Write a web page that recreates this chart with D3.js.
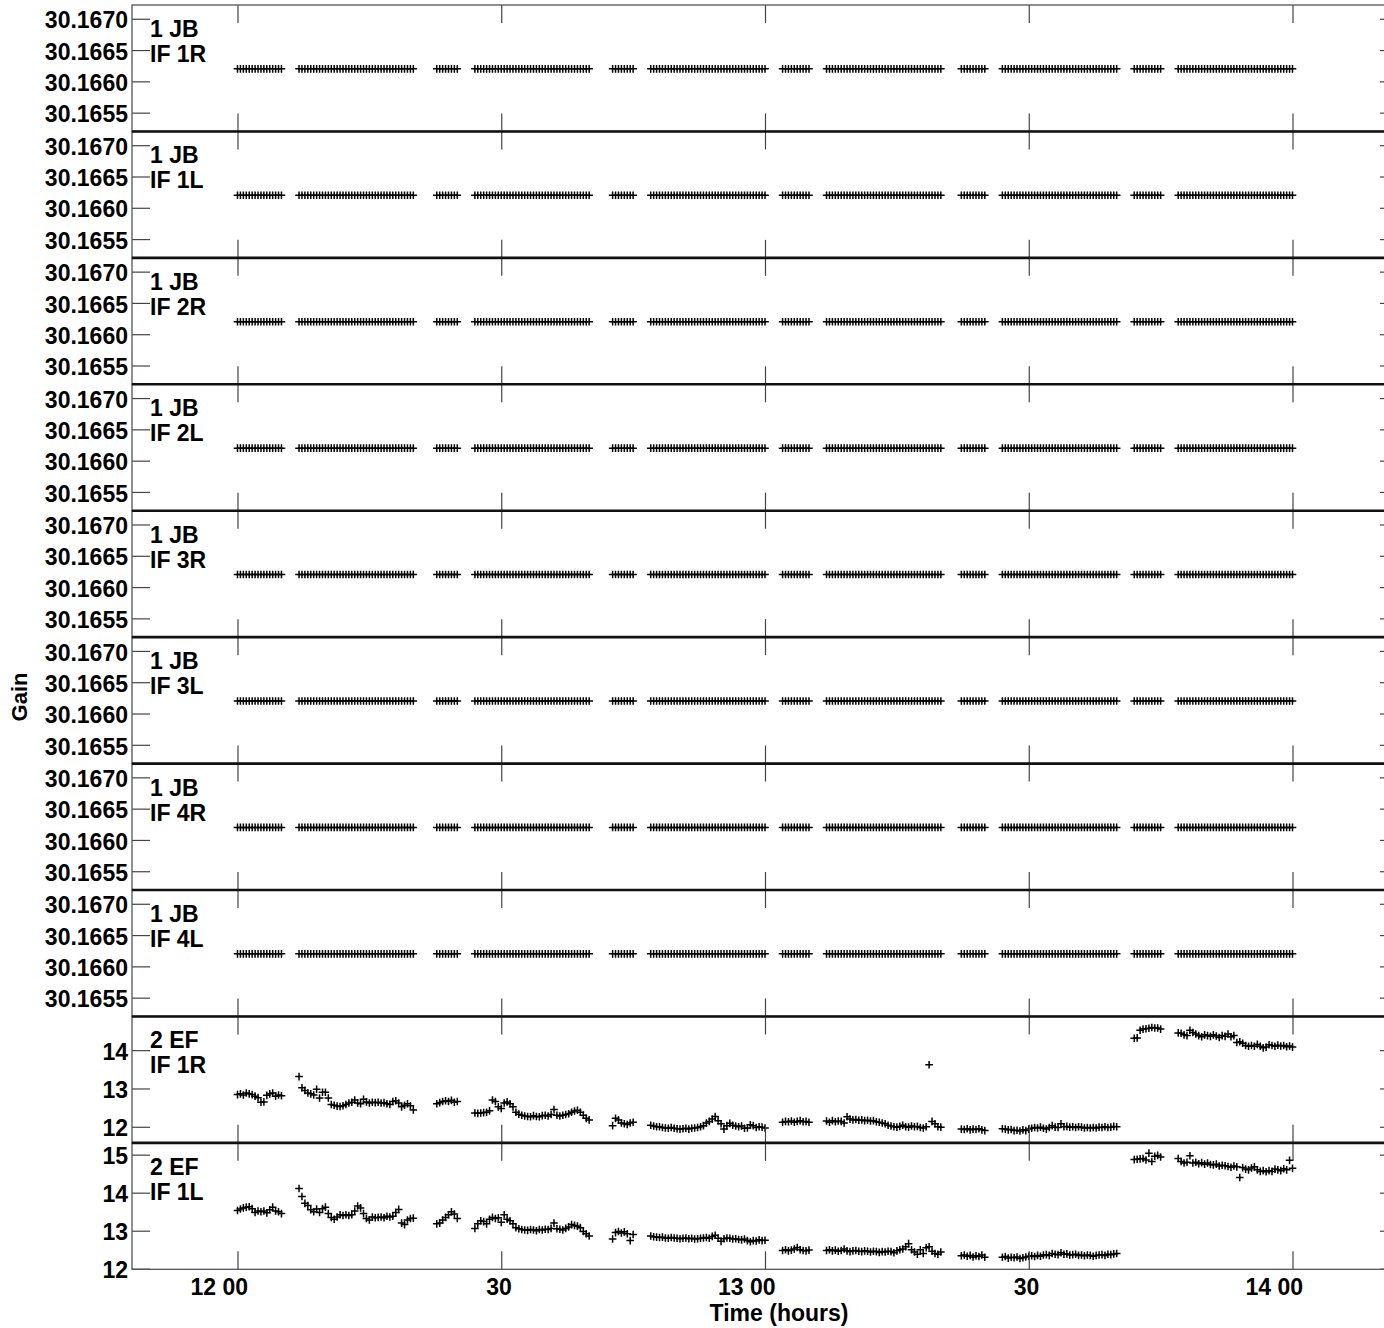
<!DOCTYPE html>
<html>
<head>
<meta charset="utf-8">
<script src="https://cdn.jsdelivr.net/npm/d3@7"></script>
<style>
  body { margin: 0; background: #fff; }
  svg { display: block; font-family: "Liberation Sans", Arial, sans-serif; font-weight: bold; }
</style>
</head>
<body>
<div id="chart"></div>
<script>
// ---- data ----
var panelAntenna = ["1 JB", "1 JB", "1 JB", "1 JB", "1 JB", "1 JB", "1 JB", "1 JB", "2 EF", "2 EF"];
var panelIF = ["IF 1R", "IF 1L", "IF 2R", "IF 2L", "IF 3R", "IF 3L", "IF 4R", "IF 4L", "IF 1R", "IF 1L"];

// scans: start time and number of 20 s samples
var scanStart = ["12:00:00", "12:07:00", "12:22:40", "12:27:00", "12:42:40", "12:47:00",
                 "13:02:00", "13:07:00", "13:22:20", "13:27:00", "13:42:00", "13:47:00"];
var scanCount = [16, 40, 8, 40, 8, 40, 10, 40, 9, 40, 10, 40];
var sampleSec = 20;

// JB gains are flat in every IF
var jbGain = [30.1662, 30.1662, 30.1662, 30.1662, 30.1662, 30.1662, 30.1662, 30.1662];

// EF gains, one list per scan
var efIF1R = [
  [12.84,12.86,12.83,12.88,12.86,12.84,12.80,12.76,12.64,12.65,12.82,12.86,12.88,12.80,12.83,12.81],
  [13.31,13.02,12.95,12.88,12.86,12.83,12.98,12.75,12.90,12.90,
   12.75,12.58,12.56,12.54,12.53,12.55,12.58,12.62,12.64,12.70,
   12.62,12.60,12.72,12.65,12.62,12.64,12.63,12.64,12.62,12.63,
   12.60,12.58,12.66,12.68,12.62,12.52,12.56,12.60,12.55,12.44],
  [12.60,12.63,12.66,12.68,12.66,12.69,12.64,12.66],
  [12.36,12.35,12.36,12.37,12.38,12.42,12.70,12.66,12.52,12.48,
   12.62,12.65,12.60,12.52,12.38,12.33,12.30,12.28,12.27,12.26,
   12.29,12.27,12.26,12.29,12.30,12.28,12.32,12.45,12.30,12.28,
   12.30,12.32,12.34,12.38,12.41,12.43,12.38,12.30,12.22,12.18],
  [12.03,12.22,12.18,12.10,12.08,12.06,12.10,12.12],
  [12.04,12.02,12.00,12.00,11.98,11.97,11.96,11.98,11.96,11.95,
   11.94,11.95,11.96,11.94,11.96,11.97,11.98,12.00,12.03,12.10,
   12.14,12.20,12.27,12.16,12.08,11.94,12.03,12.09,12.04,12.02,
   12.00,12.02,11.96,11.97,12.05,12.03,11.98,12.00,11.99,11.97],
  [12.12,12.14,12.13,12.15,12.12,12.14,12.16,12.13,12.14,12.12],
  [12.15,12.12,12.16,12.13,12.15,12.14,12.10,12.26,12.20,12.18,
   12.19,12.17,12.18,12.16,12.17,12.15,12.16,12.13,12.12,12.10,
   12.08,12.04,12.02,12.00,11.99,12.01,12.04,12.00,11.99,12.02,
   12.00,12.01,11.98,11.97,12.00,13.62,12.14,12.08,12.00,11.99],
  [11.94,11.93,11.95,11.92,11.94,11.93,11.95,11.92,11.90],
  [11.95,11.94,11.92,11.93,11.90,11.91,11.89,11.92,11.90,11.94,
   11.96,11.98,11.97,11.99,11.96,11.94,11.98,12.03,11.99,11.98,
   12.08,12.00,12.01,11.99,12.00,11.98,12.00,11.99,11.97,11.98,
   11.97,11.98,11.97,11.99,11.98,12.00,11.98,11.99,12.01,12.00],
  [14.31,14.32,14.52,14.55,14.56,14.57,14.59,14.58,14.58,14.55],
  [14.45,14.44,14.40,14.38,14.52,14.46,14.42,14.38,14.35,14.40,
   14.38,14.36,14.40,14.37,14.33,14.38,14.36,14.42,14.35,14.38,
   14.20,14.22,14.18,14.12,14.10,14.12,14.10,14.15,14.10,14.06,
   14.08,14.14,14.12,14.10,14.13,14.11,14.12,14.09,14.11,14.08]
];
var efIF1L = [
  [13.53,13.57,13.60,13.62,13.63,13.58,13.48,13.52,13.50,13.52,13.47,13.55,13.62,13.52,13.50,13.45],
  [14.11,13.90,13.72,13.66,13.55,13.50,13.57,13.48,13.58,13.62,
   13.45,13.35,13.30,13.36,13.42,13.40,13.42,13.40,13.42,13.52,
   13.65,13.60,13.45,13.32,13.28,13.36,13.34,13.35,13.36,13.34,
   13.38,13.36,13.38,13.48,13.56,13.20,13.16,13.28,13.32,13.33],
  [13.18,13.20,13.28,13.35,13.42,13.50,13.44,13.32],
  [13.06,13.18,13.26,13.24,13.18,13.30,13.35,13.32,13.34,13.22,
   13.42,13.30,13.26,13.18,13.08,13.05,13.03,13.02,13.01,13.03,
   13.02,13.00,13.03,13.02,13.04,13.03,13.06,13.20,13.05,13.04,
   13.02,13.06,13.10,13.16,13.14,13.12,13.08,12.98,12.92,12.86],
  [12.78,12.95,12.98,12.94,12.97,12.92,12.74,12.90],
  [12.86,12.84,12.83,12.82,12.83,12.81,12.80,12.82,12.81,12.80,
   12.79,12.80,12.81,12.79,12.80,12.78,12.79,12.80,12.81,12.82,
   12.80,12.85,12.88,12.80,12.72,12.79,12.81,12.80,12.78,12.79,
   12.77,12.76,12.78,12.74,12.71,12.74,12.73,12.76,12.74,12.75],
  [12.48,12.50,12.47,12.49,12.52,12.56,12.50,12.48,12.47,12.49],
  [12.48,12.50,12.47,12.49,12.46,12.48,12.52,12.47,12.45,12.47,
   12.48,12.46,12.45,12.47,12.46,12.44,12.46,12.45,12.43,12.45,
   12.44,12.46,12.45,12.42,12.47,12.50,12.52,12.58,12.66,12.50,
   12.44,12.38,12.50,12.40,12.55,12.58,12.46,12.40,12.38,12.44],
  [12.34,12.36,12.33,12.35,12.31,12.34,12.32,12.36,12.30],
  [12.30,12.32,12.28,12.30,12.29,12.31,12.27,12.29,12.31,12.33,
   12.34,12.32,12.35,12.33,12.36,12.37,12.35,12.40,12.38,12.37,
   12.42,12.38,12.39,12.36,12.37,12.38,12.35,12.36,12.34,12.36,
   12.35,12.33,12.35,12.36,12.37,12.35,12.38,12.37,12.39,12.40],
  [14.87,14.88,14.89,14.90,14.86,15.04,14.82,14.96,14.98,14.94],
  [14.90,14.82,14.78,14.80,14.97,14.78,14.80,14.76,14.79,14.75,
   14.78,14.74,14.73,14.75,14.70,14.72,14.71,14.69,14.67,14.70,
   14.68,14.40,14.66,14.62,14.60,14.65,14.68,14.60,14.56,14.58,
   14.55,14.58,14.56,14.62,14.60,14.58,14.63,14.60,14.85,14.64]
];

// axes
var timeDomain = [11.8, 14.2];
var timeTicks = [12, 12.5, 13, 13.5, 14];
var timeTickLabels = ["12 00", "30", "13 00", "30", "14 00"];
var jbDomain = [30.16520, 30.16722];
var jbTicks = [30.1655, 30.1660, 30.1665, 30.1670];
var ef1RDomain = [11.58, 14.88];
var ef1RTicks = [12, 13, 14];
var ef1LDomain = [11.985, 15.31];
var ef1LTicks = [12, 13, 14, 15];

// ---- layout ----
var W = 1384, H = 1328;
var plotLeft = 132, plotRight = 1398, plotTop = 5, plotBottom = 1269.3;
var nPanels = panelIF.length;
var panelH = (plotBottom - plotTop) / nPanels;
var tickLen = 18;
var fontSize = 23;

function toHours(s) {
    var p = s.split(":").map(Number);
    return p[0] + p[1] / 60 + p[2] / 3600;
}

// sample times of each scan
var scanTimes = scanStart.map(function (s, i) {
    var t0 = toHours(s);
    return d3.range(scanCount[i]).map(function (k) { return t0 + k * sampleSec / 3600; });
});

var x = d3.scaleLinear().domain(timeDomain).range([plotLeft, plotRight]);

var svg = d3.select("#chart").append("svg")
    .attr("width", W)
    .attr("height", H)
    .style("font-size", fontSize + "px");

var crossPath = "M-3.8,0H3.8M0,-3.8V3.8";

d3.range(nPanels).forEach(function (p) {
    var isEF = p >= 8;
    var dom = !isEF ? jbDomain : (p === 8 ? ef1RDomain : ef1LDomain);
    var ticks = !isEF ? jbTicks : (p === 8 ? ef1RTicks : ef1LTicks);
    var fmt = !isEF ? d3.format(".4f") : d3.format("d");

    var y = d3.scaleLinear().domain(dom).range([panelH, 0]);
    var g = svg.append("g")
        .attr("transform", "translate(0," + (plotTop + p * panelH) + ")");

    // points
    var pts = [];
    scanTimes.forEach(function (ts, si) {
        ts.forEach(function (t, k) {
            var v = !isEF ? jbGain[p] : (p === 8 ? efIF1R[si][k] : efIF1L[si][k]);
            pts.push({ t: t, v: v });
        });
    });
    g.selectAll(".pt")
        .data(pts)
        .enter()
        .append("path")
        .attr("class", "pt")
        .attr("d", crossPath)
        .attr("transform", function (d) { return "translate(" + x(d.t) + "," + y(d.v) + ")"; })
        .attr("fill", "none")
        .attr("stroke", "#000")
        .attr("stroke-width", 1.5);

    // y axis left, labelled
    var ya = g.append("g")
        .attr("transform", "translate(" + plotLeft + ",0)")
        .call(d3.axisLeft(y).tickValues(ticks).tickFormat(fmt).tickSize(-tickLen).tickPadding(4));
    ya.selectAll("text").attr("dy", "0.4em").attr("fill", "#000");

    // y axis right, ticks only
    g.append("g")
        .attr("transform", "translate(" + plotRight + ",0)")
        .call(d3.axisRight(y).tickValues(ticks).tickFormat("").tickSize(-tickLen));

    // x ticks on top and bottom of every panel
    g.append("g")
        .call(d3.axisTop(x).tickValues(timeTicks).tickFormat("").tickSize(-tickLen));
    var xb = g.append("g")
        .attr("transform", "translate(0," + panelH + ")")
        .call(d3.axisBottom(x).tickValues(timeTicks)
            .tickFormat(p === nPanels - 1 ? function (d, i) { return timeTickLabels[i]; } : "")
            .tickSize(-tickLen).tickPadding(9.5));
    xb.selectAll("text")
        .attr("text-anchor", "end")
        .attr("x", 10)
        .attr("fill", "#000");

    g.selectAll(".domain").remove();
    g.selectAll(".tick line").attr("stroke", "#444").attr("stroke-width", 1.2);
    g.selectAll(".tick text").style("font-size", fontSize + "px").style("font-family", "inherit");

    // panel frame
    g.append("rect")
        .attr("x", plotLeft)
        .attr("y", 0)
        .attr("width", plotRight - plotLeft)
        .attr("height", panelH)
        .attr("fill", "none")
        .attr("stroke", "#555")
        .attr("stroke-width", 1.3);

    // panel label
    var lab = g.append("text")
        .attr("x", 150)
        .attr("y", 32)
        .attr("fill", "#000");
    lab.append("tspan").attr("x", 150).text(panelAntenna[p]);
    lab.append("tspan").attr("x", 150).attr("dy", 25).text(panelIF[p]);
});

// dividers between panels
svg.selectAll(".divider")
    .data(d3.range(1, nPanels))
    .enter()
    .append("line")
    .attr("class", "divider")
    .attr("x1", plotLeft)
    .attr("x2", plotRight)
    .attr("y1", function (d) { return plotTop + d * panelH; })
    .attr("y2", function (d) { return plotTop + d * panelH; })
    .attr("stroke", "#111")
    .attr("stroke-width", 2.6);

// axis titles
svg.append("text")
    .attr("x", 779)
    .attr("y", 1321)
    .attr("text-anchor", "middle")
    .text("Time (hours)");

svg.append("text")
    .attr("transform", "translate(27,697) rotate(-90)")
    .attr("text-anchor", "middle")
    .style("font-size", "22px")
    .text("Gain");
</script>
</body>
</html>
